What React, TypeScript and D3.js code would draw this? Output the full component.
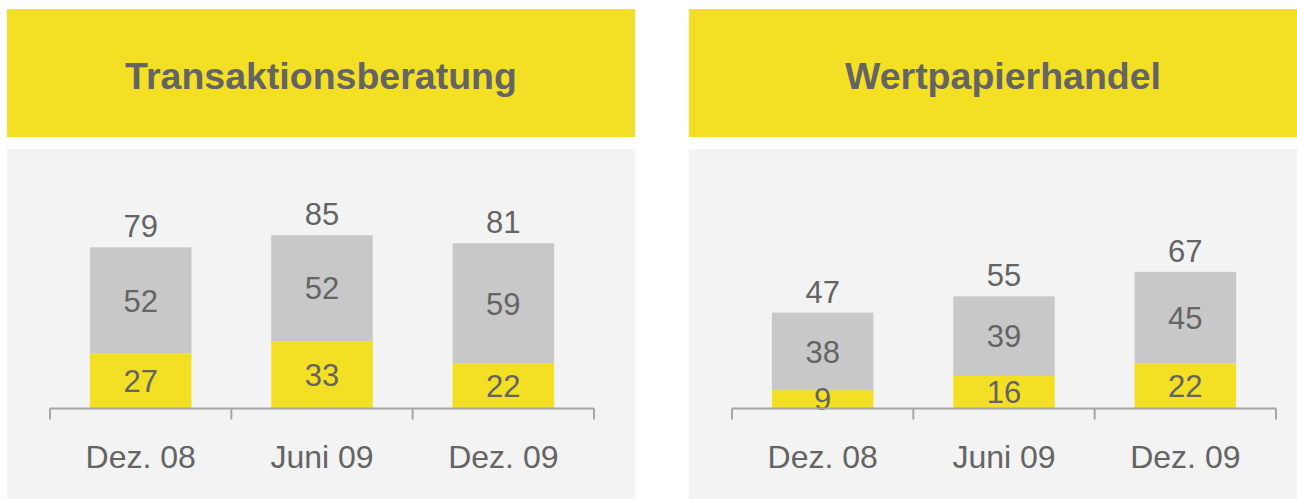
import React from "react";
import * as d3 from "d3";

const categories = ["Dez. 08", "Juni 09", "Dez. 09"];
const panelTitles = ["Transaktionsberatung", "Wertpapierhandel"];
const transYellow = [27, 33, 22];
const transGray = [52, 52, 59];
const wertYellow = [9, 16, 22];
const wertGray = [38, 39, 45];

const YELLOW = "#F3E024";
const GRAY = "#C8C8C8";
const BG = "#F2F3F2";
const TEXT = "#646464";
const AXIS = "#A6A6A6";
const FONT = "'Liberation Sans', Arial, sans-serif";

const PANEL_W = 628;
const AXIS_Y = 408.5;

function Panel({ x0, title, bottom, top }: { x0: number; title: string; bottom: number[]; top: number[] }) {
  const xb = d3.scaleBand<string>().domain(categories).range([43, 587]).padding(0);
  const y = d3.scaleLinear().domain([0, 100]).range([AXIS_Y, AXIS_Y - 204]);
  const barW = xb.bandwidth() * 0.56;
  const ticks = [...categories.map((c) => xb(c) as number), 587];
  return (
    <g transform={`translate(${x0},0)`}>
      <rect x={0} y={9} width={PANEL_W} height={128} fill={YELLOW} />
      <text x={PANEL_W / 2} y={88.5} textAnchor="middle" fontFamily={FONT} fontWeight="bold" fontSize={37.5} fill={TEXT}>
        {title}
      </text>
      <rect x={0} y={149} width={PANEL_W} height={350} fill={BG} />
      {categories.map((c, i) => {
        const cx = (xb(c) as number) + xb.bandwidth() / 2;
        const total = bottom[i] + top[i];
        const yb = y(bottom[i]);
        const yt = y(total);
        return (
          <g key={c}>
            <rect x={cx - barW / 2} y={yb} width={barW} height={AXIS_Y - yb} fill={YELLOW} />
            <rect x={cx - barW / 2} y={yt} width={barW} height={yb - yt} fill={GRAY} />
            <text x={cx} y={(yb + AXIS_Y) / 2} dy="0.36em" textAnchor="middle" fontFamily={FONT} fontSize={31} fill={TEXT}>
              {bottom[i]}
            </text>
            <text x={cx} y={(yt + yb) / 2} dy="0.36em" textAnchor="middle" fontFamily={FONT} fontSize={31} fill={TEXT}>
              {top[i]}
            </text>
            <text x={cx} y={yt - 10} textAnchor="middle" fontFamily={FONT} fontSize={31} fill={TEXT}>
              {total}
            </text>
            <text x={cx} y={467.5} textAnchor="middle" fontFamily={FONT} fontSize={32} fill={TEXT}>
              {c}
            </text>
          </g>
        );
      })}
      <line x1={43} x2={587} y1={AXIS_Y} y2={AXIS_Y} stroke={AXIS} strokeWidth={2} />
      {ticks.map((t, i) => (
        <line key={i} x1={t} x2={t} y1={AXIS_Y} y2={AXIS_Y + 11} stroke={AXIS} strokeWidth={2} />
      ))}
    </g>
  );
}

export default function App() {
  return (
    <svg width={1297} height={499} style={{ position: "absolute", left: 0, top: 0 }}>
      <rect x={0} y={0} width={1297} height={499} fill="#FFFFFF" />
      <Panel x0={7} title={panelTitles[0]} bottom={transYellow} top={transGray} />
      <Panel x0={689} title={panelTitles[1]} bottom={wertYellow} top={wertGray} />
    </svg>
  );
}
